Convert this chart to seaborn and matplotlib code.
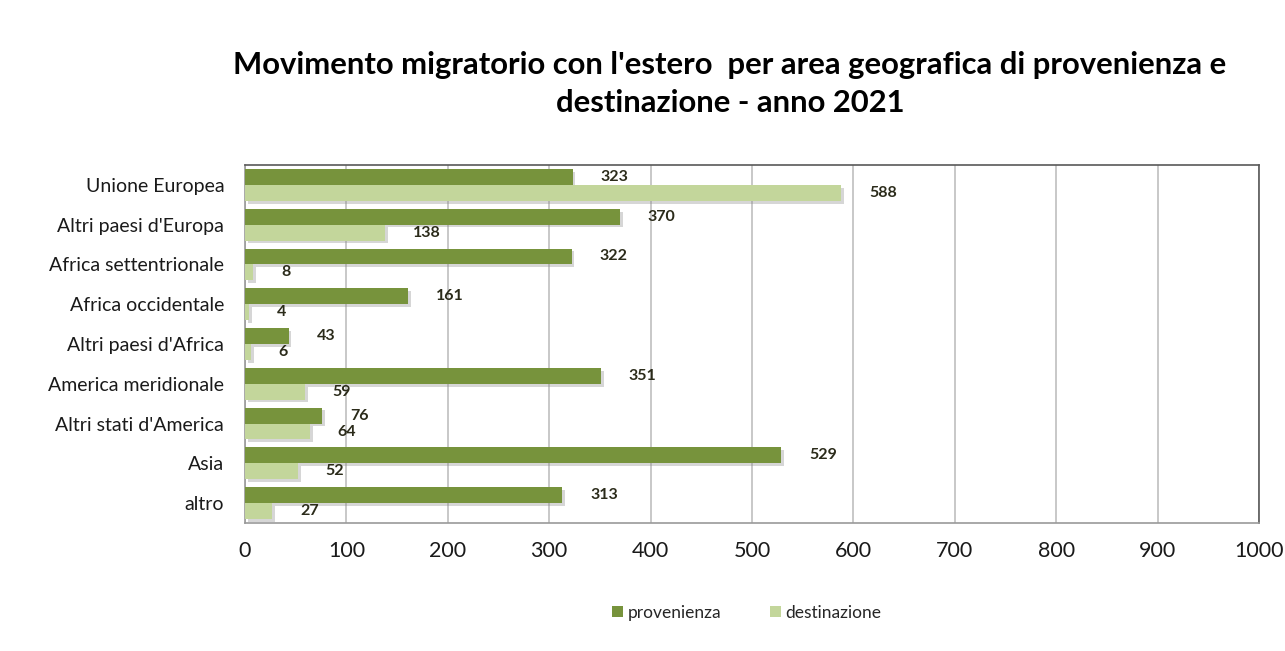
import matplotlib
matplotlib.use("Agg")
import matplotlib.pyplot as plt
import matplotlib.patheffects as pe
import seaborn as sns
import pandas as pd
from matplotlib.patches import Patch

categories = ["Unione Europea", "Altri paesi d'Europa", "Africa settentrionale",
              "Africa occidentale", "Altri paesi d'Africa", "America meridionale",
              "Altri stati d'America", "Asia", "altro"]
provenienza = [323, 370, 322, 161, 43, 351, 76, 529, 313]
destinazione = [588, 138, 8, 4, 6, 59, 64, 52, 27]
series = ["provenienza", "destinazione"]
colors = ["#77933C", "#C3D69B"]
xticks = [0, 100, 200, 300, 400, 500, 600, 700, 800, 900, 1000]

df = pd.DataFrame({
    "area": categories * 2,
    "valore": provenienza + destinazione,
    "serie": [series[0]] * len(categories) + [series[1]] * len(categories),
})

sns.set_theme(style="white")
plt.rcParams["font.family"] = ["Lato", "DejaVu Sans"]

fig = plt.figure(figsize=(12.85, 6.51), dpi=100)
ax = fig.add_axes([245 / 1285, 1 - 523 / 651, (1259 - 245) / 1285, (523 - 165) / 651])

sns.barplot(data=df, y="area", x="valore", hue="serie", order=categories,
            hue_order=series, palette=colors, orient="h", width=0.8,
            saturation=1, ax=ax, legend=False, zorder=3)

for p in ax.patches:
    p.set_linewidth(0)
    p.set_path_effects([pe.SimplePatchShadow(offset=(2, -2), shadow_rgbFace="#8c8c8c", alpha=0.35), pe.Normal()])

for cont in ax.containers:
    ax.bar_label(cont, labels=[f"{int(v)}" for v in cont.datavalues], padding=20,
                 fontsize=11.5, fontweight="bold", color="#2b2b1a")

ax.set_xlim(0, 1000)
ax.set_xticks(xticks)
ax.set_xticklabels([str(t) for t in xticks], fontsize=15.5, color="#1a1a1a")
ax.tick_params(axis="x", pad=13, length=0)
ax.tick_params(axis="y", labelsize=14, length=0, pad=15, labelcolor="#1a1a1a")
ax.set_xlabel("")
ax.set_ylabel("")
ax.xaxis.grid(True, color="#bfbfbf", linewidth=1.2, zorder=0)
ax.yaxis.grid(False)
ax.set_axisbelow(True)
for side in ["left", "bottom"]:
    ax.spines[side].set_color("#999999")
for side in ["top", "right"]:
    ax.spines[side].set_color("#595959")
for s in ax.spines.values():
    s.set_linewidth(1.2)

fig.text(730 / 1285, 1 - 84 / 651,
         "Movimento migratorio con l'estero  per area geografica di provenienza e\ndestinazione - anno 2021",
         ha="center", va="center", fontsize=22.3, fontweight="bold", color="#000000",
         linespacing=1.45)

handles = [Patch(facecolor=c, edgecolor="none") for c in colors]
fig.legend(handles, series, loc="center", bbox_to_anchor=(747 / 1285, 1 - 613 / 651),
           ncol=2, frameon=False, fontsize=12.5, handlelength=0.6, handleheight=0.6,
           handletextpad=0.3, columnspacing=2.8)

fig.savefig("out.png", dpi=100, facecolor="white")
